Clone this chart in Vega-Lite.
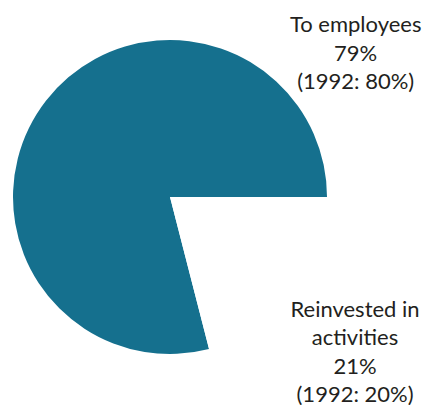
{
  "$schema": "https://vega.github.io/schema/vega-lite/v6.json",
  "width": 340,
  "height": 394,
  "padding": {"left": 0, "top": 0, "right": 83, "bottom": 11},
  "autosize": {"type": "none"},
  "background": "white",
  "view": {"stroke": null},
  "data": {
    "values": [
      {"category": "To employees", "share": 79, "label": "To employees\n79%\n(1992: 80%)"},
      {"category": "Reinvested in activities", "share": 21, "label": "Reinvested in\nactivities\n21%\n(1992: 20%)"}
    ]
  },
  "layer": [
    {
      "mark": {"type": "arc", "outerRadius": 157},
      "encoding": {
        "theta": {"field": "share", "type": "quantitative", "stack": true, "scale": {"range": [1.5708, 7.854]}},
        "color": {
          "field": "category",
          "type": "nominal",
          "scale": {"domain": ["Reinvested in activities", "To employees"], "range": ["#ffffff", "#15708e"]},
          "legend": null
        },
        "order": {"field": "share", "type": "quantitative", "sort": "ascending"}
      }
    },
    {
      "mark": {
        "type": "text",
        "font": "Lato",
        "fontSize": 22,
        "lineBreak": "\n",
        "lineHeight": 28.5,
        "align": "center",
        "baseline": "middle",
        "color": "#231f20"
      },
      "encoding": {
        "theta": {"field": "share", "type": "quantitative", "stack": true, "scale": {"range": [2.391, -0.199]}},
        "radius": {"field": "share", "type": "quantitative", "scale": {"type": "linear", "zero": false, "domain": [21, 79], "range": [216.8, 253]}},
        "order": {"field": "share", "type": "quantitative", "sort": "ascending"},
        "text": {"field": "label"}
      }
    }
  ],
  "resolve": {"scale": {"theta": "independent"}}
}
